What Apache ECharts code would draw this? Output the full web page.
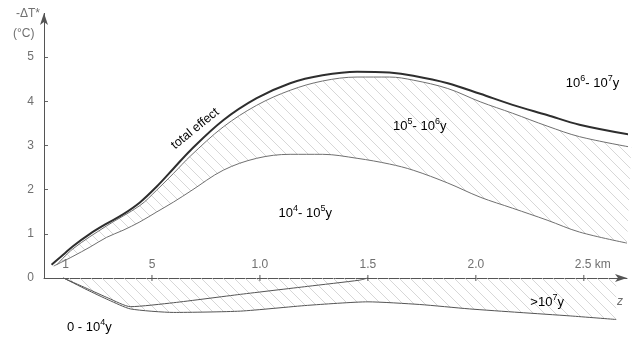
<!DOCTYPE html>
<html><head><meta charset="utf-8">
<script src="https://cdn.jsdelivr.net/npm/echarts@6/dist/echarts.min.js"></script>
<style>html,body{margin:0;padding:0;background:#fff}#c{width:637px;height:338px}</style>
</head><body><div id="c"></div>
<script>
// depth z (km) and -ΔT* (°C)
const totalZ  = [0.035, 0.09, 0.134, 0.213, 0.29, 0.366, 0.444, 0.52, 0.60, 0.68, 0.83, 0.985, 1.14, 1.29, 1.45, 1.60, 1.71, 1.87, 2.02, 2.17, 2.33, 2.48, 2.72];
const totalT  = [0.30, 0.53, 0.72, 1.00, 1.23, 1.44, 1.71, 2.06, 2.48, 2.90, 3.57, 4.07, 4.41, 4.59, 4.67, 4.65, 4.58, 4.41, 4.17, 3.92, 3.69, 3.47, 3.24];
const secondZ = [0.06, 0.134, 0.29, 0.444, 0.52, 0.60, 0.68, 0.83, 0.985, 1.14, 1.29, 1.45, 1.60, 1.71, 1.87, 2.02, 2.17, 2.33, 2.48, 2.72];
const secondT = [0.30, 0.66, 1.18, 1.64, 1.98, 2.37, 2.77, 3.42, 3.91, 4.25, 4.46, 4.55, 4.55, 4.48, 4.29, 3.99, 3.73, 3.44, 3.20, 2.96];
const thirdZ  = [0.045, 0.134, 0.213, 0.29, 0.366, 0.444, 0.52, 0.60, 0.68, 0.83, 0.985, 1.14, 1.29, 1.45, 1.60, 1.71, 1.87, 2.02, 2.17, 2.33, 2.48, 2.70];
const thirdT  = [0.27, 0.49, 0.70, 0.92, 1.08, 1.27, 1.49, 1.72, 1.97, 2.44, 2.71, 2.80, 2.80, 2.71, 2.58, 2.44, 2.15, 1.83, 1.58, 1.31, 1.04, 0.79];
const negUpZ  = [0.09, 0.2, 0.3, 0.40, 0.60, 0.91, 1.22, 1.46, 1.50];
const negUpT  = [0.0, -0.24, -0.46, -0.65, -0.56, -0.37, -0.19, -0.05, 0.0];
const negLoZ  = [0.09, 0.2, 0.3, 0.40, 0.60, 0.91, 1.22, 1.50, 1.74, 1.97, 2.20, 2.44, 2.65];
const negLoT  = [0.0, -0.27, -0.50, -0.70, -0.78, -0.75, -0.62, -0.54, -0.60, -0.70, -0.78, -0.86, -0.94];

const yLabelValues = [0, 1, 2, 3, 4, 5];
const yTickValues = [1, 2, 3, 4, 5];
const xTickValues = [0.5, 1.0, 1.5, 2.0, 2.5];
const xLabelValues = [0.1, 0.5, 1.0, 1.5, 2.0, 2.5];
const xLabelTexts = ['1', '5', '1.0', '1.5', '2.0', '2.5 km'];

// annotations: [z, T, rich text, rotation deg]
const annotations = [
  [0.70, 3.38, '{t|total effect}', 39],
  [1.74, 3.46, '{n|10}{s|5}{n|- 10}{s|6}{n|y}', 0],
  [2.54, 4.43, '{n|10}{s|6}{n|- 10}{s|7}{n|y}', 0],
  [1.21, 1.49, '{n|10}{s|4}{n|- 10}{s|5}{n|y}', 0],
  [2.33, -0.52, '{n|>10}{s|7}{n|y}', 0],
  [0.21, -1.09, '{n|0 - 10}{s|4}{n|y}', 0]
];

const zip = (a, b) => a.map((v, i) => [v, b[i]]);
const FONT = 'Liberation Sans';
const TXT = '#707070';

function hatch(color) {
  const n = 11;
  const c = document.createElement('canvas');
  c.width = c.height = n;
  const g = c.getContext('2d');
  g.strokeStyle = color; g.lineWidth = 0.8;
  g.beginPath();
  g.moveTo(0, 0); g.lineTo(n, n);
  g.moveTo(-1, n - 1); g.lineTo(1, n + 1);
  g.moveTo(n - 1, -1); g.lineTo(n + 1, 1);
  g.stroke();
  return c;
}
const pattern = { image: hatch('#cdcdcd'), repeat: 'repeat' };

const upperBand = zip(secondZ, secondT).concat(zip(thirdZ, thirdT).reverse());
const lowerBand = [[negLoZ[0], 0], [negLoZ[negLoZ.length - 1], 0]].concat(zip(negLoZ, negLoT).reverse());

function bandSeries(poly) {
  return {
    type: 'custom', silent: true, z: 1, data: [0], clip: false,
    renderItem: (params, api) => ({
      type: 'polygon',
      shape: { points: poly.map(p => api.coord(p)) },
      style: { fill: pattern, stroke: null }
    })
  };
}

const rich = {
  t: { fontFamily: FONT, fontSize: 12.5, color: TXT },
  n: { fontFamily: FONT, fontSize: 13, color: TXT, lineHeight: 16, verticalAlign: 'bottom' },
  s: { fontFamily: FONT, fontSize: 9, color: TXT, lineHeight: 8, verticalAlign: 'top' }
};

function line(z, t, color, width, smooth) {
  return {
    type: 'line', data: zip(z, t), showSymbol: false, smooth: smooth, clip: false, z: 3,
    lineStyle: { color: color, width: width }, silent: true
  };
}

const chart = echarts.init(document.getElementById('c'));
chart.setOption({
  animation: false,
  backgroundColor: '#fff',
  grid: { left: 44, right: 10, top: 13, bottom: 2.6 },
  xAxis: {
    type: 'value', min: 0, max: 2.7,
    axisLine: { onZero: true, symbol: ['none', 'arrow'], symbolSize: [6, 12], lineStyle: { color: '#555', width: 1 } },
    axisTick: { show: false },
    axisLabel: { show: false },
    splitLine: { show: false }
  },
  yAxis: {
    type: 'value', min: -1.3, max: 6,
    axisLine: { show: false },
    axisTick: { show: true, inside: true, length: 4, customValues: yTickValues, lineStyle: { color: '#666' } },
    axisLabel: { customValues: yLabelValues, color: TXT, fontFamily: FONT, fontSize: 12, margin: 10 },
    splitLine: { show: false }
  },
  graphic: [
    { type: 'text', left: 16, top: 8, style: { text: '-ΔT*', fontFamily: FONT, fontSize: 12, fill: TXT } },
    { type: 'text', left: 13, top: 28, style: { text: '(°C)', fontFamily: FONT, fontSize: 12, fill: TXT } },
    { type: 'text', left: 617, top: 296, style: { text: 'z', fontFamily: FONT, fontSize: 12, fontStyle: 'italic', fill: TXT } }
  ],
  series: [
    bandSeries(upperBand),
    bandSeries(lowerBand),
    Object.assign(line(totalZ, totalT, '#2e2e2e', 2, 0.35), {
      markLine: {
        silent: true, symbol: ['none', 'arrow'], symbolSize: [6, 12], animation: false,
        label: { show: false },
        lineStyle: { color: '#555', width: 1, type: 'solid' },
        data: [[{ coord: [0, 0] }, { coord: [0, 6] }]]
      }
    }),
    line(secondZ, secondT, '#707070', 1, 0.35),
    line(thirdZ, thirdT, '#707070', 1, 0.35),
    line(negUpZ, negUpT, '#555', 1, 0.2),
    line(negLoZ, negLoT, '#555', 1, 0.2),
    {
      // x-axis ticks (crossing the axis line)
      type: 'custom', silent: true, z: 4, clip: false, data: xTickValues,
      renderItem: (params, api) => {
        const p = api.coord([api.value(0), 0]);
        return { type: 'line', shape: { x1: p[0], y1: p[1] - 3, x2: p[0], y2: p[1] + 3 }, style: { stroke: '#555', lineWidth: 1 } };
      }
    },
    {
      // x-axis tick labels, above the axis line
      type: 'custom', silent: true, z: 4, clip: false, data: xLabelValues,
      renderItem: (params, api) => {
        const p = api.coord([api.value(0), 0]);
        const last = params.dataIndex === xLabelValues.length - 1;
        return { type: 'text', x: last ? p[0] - 9 : p[0], y: p[1] - 7,
          style: { text: xLabelTexts[params.dataIndex], fontFamily: FONT, fontSize: 12, fill: TXT,
                   align: last ? 'left' : 'center', verticalAlign: 'bottom' } };
      }
    },
    {
      type: 'custom', silent: true, z: 5, clip: false, data: annotations.map((a, i) => i),
      renderItem: (params, api) => {
        const a = annotations[params.dataIndex];
        const p = api.coord([a[0], a[1]]);
        return {
          type: 'text', x: p[0], y: p[1], rotation: a[3] * Math.PI / 180,
          style: { text: a[2], rich: rich, align: 'center', verticalAlign: 'middle' }
        };
      }
    }
  ]
});
</script></body></html>
